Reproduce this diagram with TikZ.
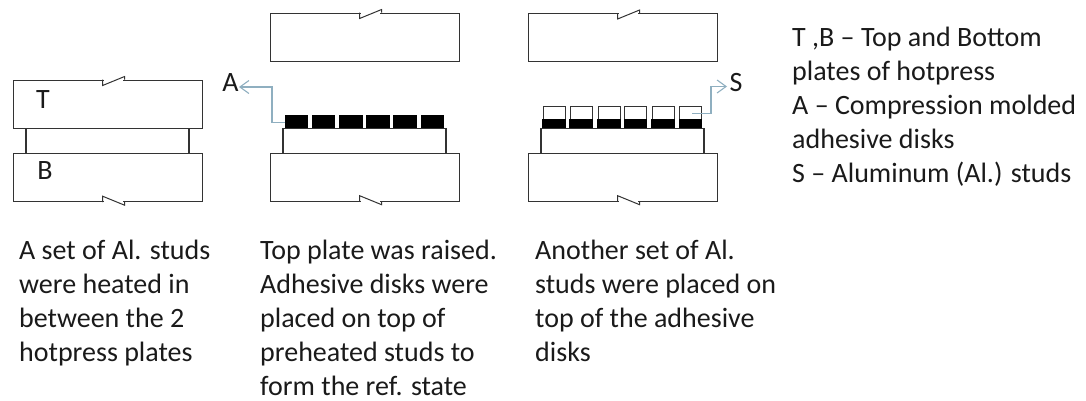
\documentclass[tikz,border=0pt]{standalone}
\usepackage{fontspec}
\setmainfont{Carlito}
\usetikzlibrary{arrows.meta, positioning, calc}
\definecolor{plateline}{HTML}{333333}
\definecolor{leader}{HTML}{8FAFC0}
\definecolor{inktext}{HTML}{1A1A1A}
\tikzset{
    plate/.style={
        rectangle, minimum width=189pt, minimum height=48pt, inner sep=0pt,
        draw=plateline, line width=1.2pt, fill=white
    },
    stud/.style={
        rectangle, minimum width=163pt, minimum height=25pt, inner sep=0pt,
        draw=plateline, line width=1.1pt, fill=white
    },
    disk/.style={
        rectangle, minimum width=22.5pt, minimum height=12pt, inner sep=0pt,
        draw=black, fill=black, line width=0pt
    },
    studtop/.style={
        rectangle, minimum width=22pt, minimum height=13pt, inner sep=0pt,
        draw=plateline, line width=1pt, fill=white
    },
    breakline/.style={
        draw=plateline, line width=1pt
    },
    leaderarrow/.style={
        -{Straight Barb[length=9pt,width=13pt]}, draw=leader, line width=1.1pt
    },
    tag/.style={
        font=\fontsize{28}{28}\selectfont, text=inktext, inner sep=0pt
    },
    caption/.style={
        font=\fontsize{28}{34}\selectfont, text=inktext, align=left,
        anchor=north west, inner sep=0pt
    }
}

\begin{document}
\begin{tikzpicture}[x=1pt, y=-1pt]

    \useasboundingbox (0,0) rectangle (1086,400);

    % left panel
    \node[stud, anchor=north] (stud1) at (107.5,128) {};
    \node[plate, anchor=north west] (platet1) at (13,79.5) {};
    \node[plate, anchor=north west] (plateb1) at (13,153) {};
    \node[tag] (labt) at (43,99.5) {T};
    \node[tag] (labb) at (45,170.5) {B};

    % middle panel
    \node[plate, anchor=north west] (platet2) at (270,12.5) {};
    \node[stud, anchor=north] (stud2) at (364.5,127.5) {};
    \node[plate, anchor=north west] (plateb2) at (270,152.5) {};
    \foreach \x/\n in {296.5/1, 323.5/2, 351/3, 378/4, 405/5, 432.5/6}
        \node[disk] (diska\n) at (\x,121) {};
    \node[tag] (laba) at (230.5,83) {A};

    % right panel
    \node[plate, anchor=north west] (platet3) at (528,13) {};
    \node[stud, anchor=north] (stud3) at (622.5,127.5) {};
    \node[plate, anchor=north west] (plateb3) at (528,152.5) {};
    \foreach \x/\n in {554/1, 581/2, 609/3, 635.5/4, 663/5, 690.5/6} {
        \node[studtop] (caps\n) at (\x,112.5) {};
        \node[disk, minimum height=8pt] (diskb\n) at (\x,123) {};
    }
    \node[tag] (labs) at (736,82.5) {S};

    % breaks in the plates
    \foreach \p in {platet1, platet2, platet3} {
        \draw[white, line width=2pt] ($(\p.north)+(-4,0)$) -- ($(\p.north)+(15,0)$);
        \draw[breakline] ($(\p.north)+(-5.5,0)$) -- ++(0,6) -- ++(22,-9) -- ++(0,3);
    }
    \foreach \p in {plateb1, plateb2, plateb3} {
        \draw[white, line width=2pt] ($(\p.south)+(-4,0)$) -- ($(\p.south)+(15,0)$);
        \draw[breakline] ($(\p.south)+(-5.5,0)$) -- ++(0,-6) -- ++(22,9) -- ++(0,-3);
    }

    % leaders
    \coordinate (benda) at (272,122.5);
    \coordinate (tipa) at (239,87);
    \coordinate (tails) at (692,113.5);
    \coordinate (bends) at (711,113.5);
    \coordinate (tips) at (727,86.5);
    \draw[leaderarrow] (diska1.west |- benda) -- (benda) |- (tipa);
    \draw[leaderarrow] (tails) -- (bends) |- (tips);

    % captions
    \node[caption] (capa) at (19,239.5) {A set of Al. studs\\were heated in\\between the 2\\hotpress plates};
    \node[caption] (capb) at (260,239.5) {Top plate was raised.\\Adhesive disks were\\placed on top of\\preheated studs to\\form the ref. state};
    \node[caption] (capc) at (535,239.5) {Another set of Al.\\studs were placed on\\top of the adhesive\\disks};
    \node[caption] (legend) at (792,27) {T ,B -- Top and Bottom\\plates of hotpress\\A -- Compression molded\\adhesive disks\\S -- Aluminum (Al.) studs};

\end{tikzpicture}
\end{document}
